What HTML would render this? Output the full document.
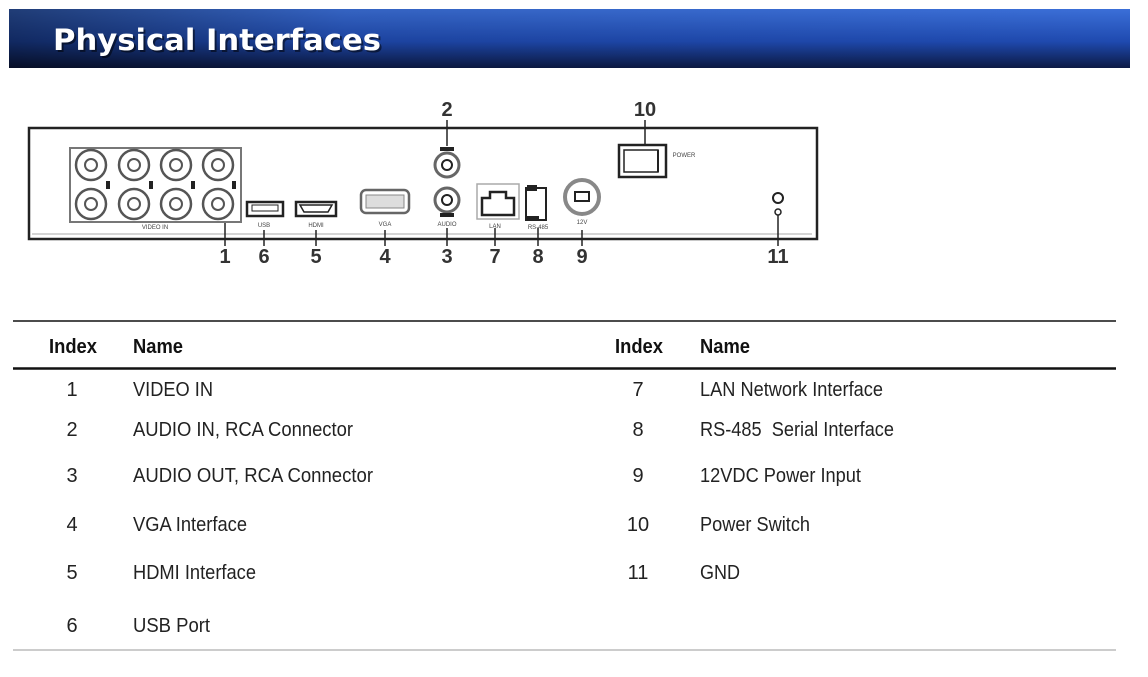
<!DOCTYPE html>
<html><head><meta charset="utf-8"><style>
html,body{margin:0;padding:0;background:#fff;width:1148px;height:677px;overflow:hidden}
</style></head><body>
<svg width="1148" height="677" viewBox="0 0 1148 677" xmlns="http://www.w3.org/2000/svg" font-family="Liberation Sans, Arial, sans-serif">
<defs>
<linearGradient id="bv" x1="0" y1="0" x2="0" y2="1">
<stop offset="0" stop-color="#3b6fd8"/><stop offset="0.55" stop-color="#1f4ab0"/><stop offset="1" stop-color="#0c1a45"/>
</linearGradient>
<linearGradient id="bh" x1="0" y1="0" x2="1" y2="0">
<stop offset="0" stop-color="#000" stop-opacity="0.45"/><stop offset="0.3" stop-color="#000" stop-opacity="0.1"/><stop offset="1" stop-color="#000" stop-opacity="0"/>
</linearGradient>
</defs>
<rect x="9" y="9" width="1121" height="59" fill="url(#bv)"/>
<rect x="9" y="9" width="1121" height="59" fill="url(#bh)"/>
<text x="55" y="52" font-size="29" font-weight="bold" fill="#000" opacity="0.5" font-family="DejaVu Sans, sans-serif" textLength="328" lengthAdjust="spacingAndGlyphs">Physical Interfaces</text>
<text x="53" y="50" font-size="29" font-weight="bold" fill="#fff" font-family="DejaVu Sans, sans-serif" textLength="328" lengthAdjust="spacingAndGlyphs">Physical Interfaces</text>

<!-- device -->
<g stroke="#222" fill="none">
<rect x="29" y="128" width="788" height="111" stroke-width="2.5"/>
<line x1="32" y1="234" x2="812" y2="234" stroke="#aaa" stroke-width="1"/>
<rect x="70" y="148" width="171" height="74" stroke="#777" stroke-width="2"/>
<g stroke-width="2.5" stroke="#555">
<circle cx="91" cy="165" r="15"/><circle cx="134" cy="165" r="15"/><circle cx="176" cy="165" r="15"/><circle cx="218" cy="165" r="15"/>
<circle cx="91" cy="204" r="15"/><circle cx="134" cy="204" r="15"/><circle cx="176" cy="204" r="15"/><circle cx="218" cy="204" r="15"/>
</g>
<g stroke-width="2" stroke="#555">
<circle cx="91" cy="165" r="6"/><circle cx="134" cy="165" r="6"/><circle cx="176" cy="165" r="6"/><circle cx="218" cy="165" r="6"/>
<circle cx="91" cy="204" r="6"/><circle cx="134" cy="204" r="6"/><circle cx="176" cy="204" r="6"/><circle cx="218" cy="204" r="6"/>
</g>
<g fill="#222" stroke="none"><rect x="106" y="181" width="4" height="8"/><rect x="149" y="181" width="4" height="8"/><rect x="191" y="181" width="4" height="8"/><rect x="232" y="181" width="4" height="8"/></g>
<rect x="247" y="202" width="36" height="14" stroke-width="2.5"/>
<rect x="252" y="205" width="26" height="6" stroke-width="1"/>
<rect x="296" y="202" width="40" height="14" stroke-width="2.5"/>
<path d="M300 205 H332 L328 212 H304 Z" stroke-width="1.5"/>
<rect x="361" y="190" width="48" height="23" rx="5" stroke="#666" stroke-width="2.5"/>
<rect x="366" y="195" width="38" height="13" stroke="#888" stroke-width="1" fill="#ddd"/>
<circle cx="447" cy="165" r="12" stroke="#666" stroke-width="3"/><circle cx="447" cy="165" r="5" stroke-width="2"/>
<circle cx="447" cy="200" r="12" stroke="#666" stroke-width="3"/><circle cx="447" cy="200" r="5" stroke-width="2"/>
<rect x="440" y="147" width="14" height="4" fill="#222" stroke="none"/>
<rect x="440" y="213" width="14" height="4" fill="#222" stroke="none"/>
<rect x="477" y="184" width="42" height="35" stroke="#aaa" stroke-width="1.5"/>
<path d="M482 215 V198 H490 V192 H506 V198 H514 V215 Z" stroke-width="2.5"/>
<rect x="526" y="188" width="20" height="32" stroke-width="2"/>
<rect x="527" y="185" width="10" height="6" fill="#222" stroke="none"/>
<rect x="527" y="216" width="12" height="5" fill="#222" stroke="none"/>
<circle cx="582" cy="197" r="17" stroke="#888" stroke-width="4"/>
<rect x="575" y="192" width="14" height="9" stroke-width="2"/>
<rect x="619" y="145" width="47" height="32" stroke-width="2.5"/>
<rect x="624" y="150" width="34" height="22" stroke-width="1.5"/>
<line x1="658" y1="150" x2="658" y2="172" stroke-width="2"/>
<circle cx="778" cy="198" r="5" stroke-width="2"/>
<circle cx="778" cy="212" r="3" stroke-width="1.5"/>
<g stroke-width="1.5">
<line x1="225" y1="223" x2="225" y2="246"/>
<line x1="264" y1="230" x2="264" y2="246"/>
<line x1="316" y1="230" x2="316" y2="246"/>
<line x1="385" y1="230" x2="385" y2="246"/>
<line x1="447" y1="228" x2="447" y2="246"/>
<line x1="495" y1="228" x2="495" y2="246"/>
<line x1="538" y1="228" x2="538" y2="246"/>
<line x1="582" y1="230" x2="582" y2="246"/>
<line x1="778" y1="215" x2="778" y2="246"/>
<line x1="447" y1="120" x2="447" y2="146"/>
<line x1="645" y1="120" x2="645" y2="145"/>
</g>
</g>
<g font-size="6" fill="#444" text-anchor="middle">
<text x="155" y="229">VIDEO IN</text><text x="264" y="227">USB</text><text x="316" y="227">HDMI</text>
<text x="385" y="226">VGA</text><text x="447" y="226">AUDIO</text><text x="495" y="228">LAN</text>
<text x="538" y="229">RS-485</text><text x="582" y="224">12V</text><text x="684" y="157">POWER</text>
</g>
<g font-size="20" fill="#333" text-anchor="middle" font-weight="bold" font-family="Liberation Sans Narrow, Liberation Sans, sans-serif">
<text x="225" y="263">1</text><text x="264" y="263">6</text><text x="316" y="263">5</text><text x="385" y="263">4</text>
<text x="447" y="263">3</text><text x="495" y="263">7</text><text x="538" y="263">8</text><text x="582" y="263">9</text>
<text x="778" y="263">11</text><text x="447" y="116">2</text><text x="645" y="116">10</text>
</g>

<!-- table -->
<line x1="13" y1="321" x2="1116" y2="321" stroke="#111" stroke-width="1.5"/>
<line x1="13" y1="368.5" x2="1116" y2="368.5" stroke="#111" stroke-width="2.5"/>
<line x1="13" y1="650" x2="1116" y2="650" stroke="#999" stroke-width="1"/>
<g font-size="20" font-weight="bold" fill="#111">
<text x="49" y="353" textLength="48" lengthAdjust="spacingAndGlyphs">Index</text>
<text x="133" y="353" textLength="50" lengthAdjust="spacingAndGlyphs">Name</text>
<text x="615" y="353" textLength="48" lengthAdjust="spacingAndGlyphs">Index</text>
<text x="700" y="353" textLength="50" lengthAdjust="spacingAndGlyphs">Name</text>
</g>
<g font-size="20" fill="#222">
<g text-anchor="middle" font-family="Liberation Sans Narrow, Liberation Sans, sans-serif">
<text x="72" y="396">1</text><text x="72" y="436">2</text><text x="72" y="482">3</text><text x="72" y="531">4</text><text x="72" y="579">5</text><text x="72" y="632">6</text>
<text x="638" y="396">7</text><text x="638" y="436">8</text><text x="638" y="482">9</text><text x="638" y="531">10</text><text x="638" y="579">11</text>
</g>
<text x="133" y="396" textLength="80" lengthAdjust="spacingAndGlyphs">VIDEO IN</text>
<text x="133" y="436" textLength="220" lengthAdjust="spacingAndGlyphs">AUDIO IN, RCA Connector</text>
<text x="133" y="482" textLength="240" lengthAdjust="spacingAndGlyphs">AUDIO OUT, RCA Connector</text>
<text x="133" y="531" textLength="114" lengthAdjust="spacingAndGlyphs">VGA Interface</text>
<text x="133" y="579" textLength="123" lengthAdjust="spacingAndGlyphs">HDMI Interface</text>
<text x="133" y="632" textLength="77" lengthAdjust="spacingAndGlyphs">USB Port</text>
<text x="700" y="396" textLength="183" lengthAdjust="spacingAndGlyphs">LAN Network Interface</text>
<text x="700" y="436" textLength="194" lengthAdjust="spacingAndGlyphs" xml:space="preserve">RS-485  Serial Interface</text>
<text x="700" y="482" textLength="161" lengthAdjust="spacingAndGlyphs">12VDC Power Input</text>
<text x="700" y="531" textLength="110" lengthAdjust="spacingAndGlyphs">Power Switch</text>
<text x="700" y="579" textLength="40" lengthAdjust="spacingAndGlyphs">GND</text>
</g>
</svg>
</body></html>
